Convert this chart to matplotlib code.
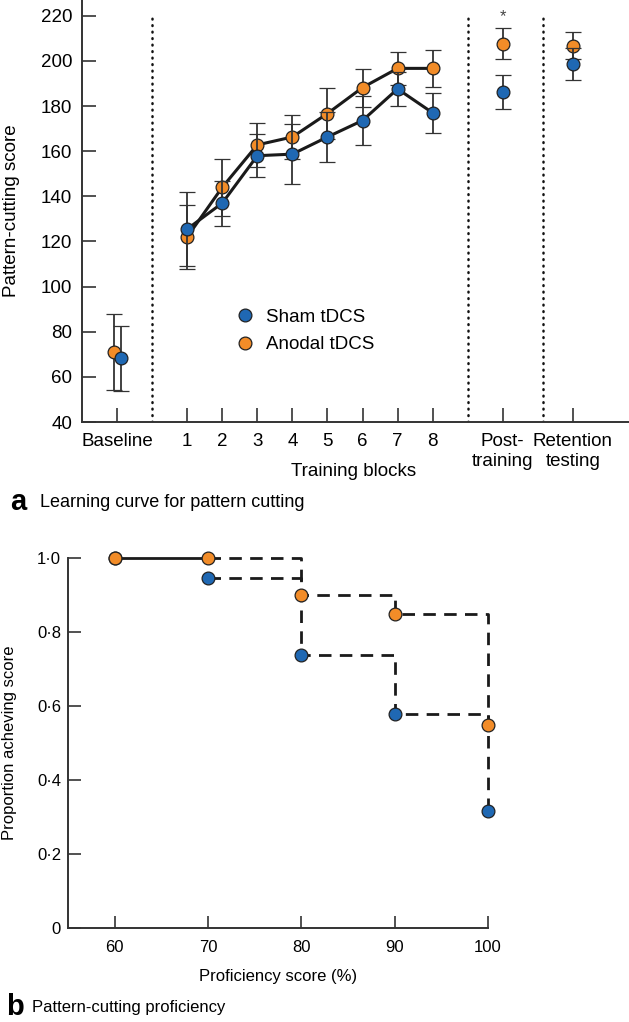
import matplotlib.pyplot as plt
from matplotlib.lines import Line2D

plt.rcParams['font.family'] = ['Liberation Sans', 'DejaVu Sans']

BLUE = '#1f68b3'
ORANGE = '#f28c28'
EDGE = '#222222'
AXC = '#333333'

# panel a: learning curve
BLOCKS = [1, 2, 3, 4, 5, 6, 7, 8]
SHAM_BLOCKS = [125.5, 137.0, 158.0, 158.7, 166.3, 173.6, 187.6, 177.0]
SHAM_BLOCKS_ERR = [16.5, 10.0, 9.5, 13.4, 11.2, 11.0, 7.5, 8.8]
ANODAL_BLOCKS = [122.0, 144.0, 162.8, 166.3, 176.7, 188.2, 196.7, 196.7]
ANODAL_BLOCKS_ERR = [14.0, 12.6, 9.8, 9.7, 11.2, 8.4, 7.3, 8.3]

# baseline, post-training, retention
EXTRA_X = [-1, 10, 12]
SHAM_EXTRA = [68.2, 186.1, 198.7]
SHAM_EXTRA_ERR = [14.4, 7.5, 7.0]
ANODAL_EXTRA = [70.9, 207.7, 206.7]
ANODAL_EXTRA_ERR = [16.8, 6.7, 6.0]

XTICKS_A = [-1, 1, 2, 3, 4, 5, 6, 7, 8, 10, 12]
XTICKLABELS_A = ["Baseline", "1", "2", "3", "4", "5", "6", "7", "8",
                 "Post-\ntraining", "Retention\ntesting"]
YTICKS_A = [40, 60, 80, 100, 120, 140, 160, 180, 200, 220]
DIVIDERS = [0, 9, 11.15]

# panel b: proficiency
PROF_X = [60, 70, 80, 90, 100]
SHAM_PROP = [1.0, 0.947, 0.737, 0.579, 0.316]
ANODAL_PROP = [1.0, 1.0, 0.90, 0.85, 0.55]
YTICKS_B = [0, 0.2, 0.4, 0.6, 0.8, 1.0]
YTICKLABELS_B = ["0", "0·2", "0·4", "0·6", "0·8", "1·0"]

MS = 9.2
MEW = 0.9

fig = plt.figure(figsize=(6.29, 10.22), dpi=100)

# ---------------- panel a ----------------
ax = fig.add_axes([82 / 629, 1 - 422 / 1022, 547 / 629, 422 / 1022])

for xd in DIVIDERS:
    ax.plot([xd, xd], [40, 219], color='#111111', lw=1.8,
            linestyle=(0, (0.3, 2.3)), dash_capstyle='round', zorder=1)

ax.plot(BLOCKS, ANODAL_BLOCKS, color='#1a1a1a', lw=2.2, zorder=2)
ax.plot(BLOCKS, SHAM_BLOCKS, color='#1a1a1a', lw=2.2, zorder=2)

anodal_x = EXTRA_X[:]
anodal_x[0] = EXTRA_X[0] - 0.1
sham_x = EXTRA_X[:]
sham_x[0] = EXTRA_X[0] + 0.1

err_kw = dict(fmt='o', ecolor=AXC, elinewidth=1.3, capsize=6, capthick=1.3,
              ms=MS, mec=EDGE, mew=MEW)
ax.errorbar(BLOCKS + anodal_x, ANODAL_BLOCKS + ANODAL_EXTRA,
            yerr=ANODAL_BLOCKS_ERR + ANODAL_EXTRA_ERR, mfc=ORANGE,
            zorder=3, **err_kw)
ax.errorbar(BLOCKS + sham_x, SHAM_BLOCKS + SHAM_EXTRA,
            yerr=SHAM_BLOCKS_ERR + SHAM_EXTRA_ERR, mfc=BLUE,
            zorder=4, **err_kw)

ax.text(10, 219.5, '*', ha='center', va='center', fontsize=12, color='#444444')

ax.set_xlim(-2, 13.6)
ax.set_ylim(40, 227)
ax.set_xticks(XTICKS_A)
ax.set_xticklabels(XTICKLABELS_A, linespacing=1.2)
ax.set_yticks(YTICKS_A)
ax.tick_params(direction='in', length=10, width=1.2, color=AXC,
               labelsize=13.5, pad=7)
ax.tick_params(axis='x', pad=8)
for s in ['top', 'right']:
    ax.spines[s].set_visible(False)
for s in ['left', 'bottom']:
    ax.spines[s].set_linewidth(1.4)
    ax.spines[s].set_color(AXC)

ax.set_xlabel('Training blocks', fontsize=13.5)
ax.xaxis.set_label_coords(0.497, -0.097)
ax.set_ylabel('Pattern-cutting score', fontsize=13.5)
ax.yaxis.set_label_coords(-0.113, 0.5)

handles = [
    Line2D([], [], ls='none', marker='o', ms=MS, mfc=BLUE, mec=EDGE, mew=MEW),
    Line2D([], [], ls='none', marker='o', ms=MS, mfc=ORANGE, mec=EDGE, mew=MEW),
]
ax.legend(handles, ['Sham tDCS', 'Anodal tDCS'], loc='center left',
          bbox_to_anchor=(0.25, 0.216), frameon=False, fontsize=13.5,
          handlelength=1.0, handletextpad=0.6, labelspacing=0.55)

fig.text(10 / 629, 1 - 502 / 1022, 'a', fontsize=21, fontweight='bold',
         va='center', ha='left')
fig.text(40 / 629, 1 - 502 / 1022, 'Learning curve for pattern cutting',
         fontsize=13, va='center', ha='left')

# ---------------- panel b ----------------
bx = fig.add_axes([68 / 629, 1 - 927.7 / 1022, 420 / 629, 369.4 / 1022])

bx.plot(PROF_X[:2], [SHAM_PROP[0], ANODAL_PROP[1]], color='#1a1a1a', lw=2.0,
        zorder=2, clip_on=False)
bx.plot(PROF_X[1:], ANODAL_PROP[1:], drawstyle='steps-post', color='#1a1a1a',
        lw=2.0, dashes=(4.5, 3), zorder=2, clip_on=False)
bx.plot(PROF_X[1:], SHAM_PROP[1:], drawstyle='steps-post', color='#1a1a1a',
        lw=2.0, dashes=(4.5, 3), zorder=2, clip_on=False)
bx.plot(PROF_X, SHAM_PROP, 'o', ms=MS, mfc=BLUE, mec=EDGE, mew=MEW,
        zorder=3, clip_on=False)
bx.plot(PROF_X, ANODAL_PROP, 'o', ms=MS, mfc=ORANGE, mec=EDGE, mew=MEW,
        zorder=4, clip_on=False)

bx.set_xlim(55, 100)
bx.set_ylim(0, 1.0)
bx.set_xticks(PROF_X)
bx.set_yticks(YTICKS_B)
bx.set_yticklabels(YTICKLABELS_B)
bx.tick_params(direction='in', length=9, width=1.2, color=AXC,
               labelsize=12)
bx.tick_params(axis='x', pad=9)
bx.tick_params(axis='y', pad=5)
for s in ['top', 'right']:
    bx.spines[s].set_visible(False)
for s in ['left', 'bottom']:
    bx.spines[s].set_linewidth(1.4)
    bx.spines[s].set_color(AXC)

bx.set_xlabel('Proficiency score (%)', fontsize=12)
bx.xaxis.set_label_coords(0.5, -0.111)
bx.set_ylabel('Proportion acheving score', fontsize=12)
bx.yaxis.set_label_coords(-0.122, 0.5)

fig.text(6 / 629, 1 - 1007 / 1022, 'b', fontsize=21, fontweight='bold',
         va='center', ha='left')
fig.text(32 / 629, 1 - 1007 / 1022, 'Pattern-cutting proficiency',
         fontsize=12, va='center', ha='left')

fig.savefig('out.png', dpi=100)
